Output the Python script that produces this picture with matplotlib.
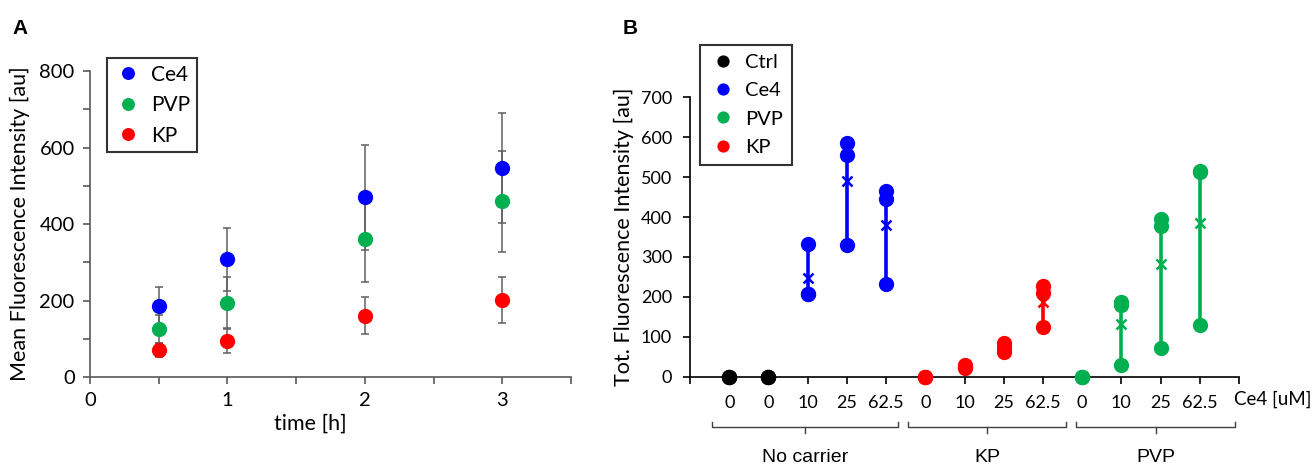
import matplotlib
matplotlib.use("Agg")
import matplotlib.pyplot as plt
import numpy as np

plt.rcParams['font.family'] = ['Lato', 'DejaVu Sans']

BLUE = '#0000ff'
GREEN = '#00b050'
RED = '#ff0000'

# ---- panel A data: mean fluorescence vs time
time_h = [0.5, 1, 2, 3]
ce4_mean = [186, 308, 470, 546]
ce4_err = [49, 82, 137, 143]
pvp_mean = [125, 194, 360, 459]
pvp_err = [37, 67, 112, 133]
kp_mean = [71, 95, 160, 202]
kp_err = [18, 31, 48, 60]

# ---- panel B data: replicate totals per condition
cat_labels = ['0', '0', '10', '25', '62.5', '0', '10', '25', '62.5', '0', '10', '25', '62.5']
ctrl_pos = [0, 1]
ctrl_vals = [[0, 0, 0], [0, 0, 0]]
ce4_pos = [2, 3, 4]
ce4_vals = [[332, 206, 206], [586, 556, 331], [465, 445, 231]]
kp_pos = [5, 6, 7, 8]
kp_vals = [[0, 0, 0], [30, 25, 21], [84, 72, 62], [227, 209, 125]]
pvp_pos = [9, 10, 11, 12]
pvp_vals = [[0, 0, 0], [188, 180, 29], [395, 378, 71], [515, 513, 130]]
groups = ['No carrier', 'KP', 'PVP']
group_span = [(-0.45, 4.3), (4.55, 8.6), (8.85, 12.9)]

fig = plt.figure(figsize=(13.16, 4.66), dpi=100)

# ================= A =================
axA = fig.add_axes([90/1316, 1-377/466, (571-90)/1316, (377-71)/466])
for m, e in [(ce4_mean, ce4_err), (pvp_mean, pvp_err), (kp_mean, kp_err)]:
    axA.errorbar(time_h, m, yerr=e, fmt='none', ecolor='#5f5f5f', elinewidth=1.1,
                 capsize=3.2, capthick=1.1, zorder=2)
for m, c, lab in [(ce4_mean, BLUE, 'Ce4'), (pvp_mean, GREEN, 'PVP'), (kp_mean, RED, 'KP')]:
    axA.plot(time_h, m, 'o', color=c, ms=11, mec='none', label=lab, zorder=3)

axA.set_xlim(0, 3.5)
axA.set_ylim(0, 800)
axA.set_xticks(np.arange(0, 3.51, 0.5))
axA.set_xticklabels(['0', '', '1', '', '2', '', '3', ''])
axA.set_yticks(np.arange(0, 801, 100))
axA.set_yticklabels(['0', '', '200', '', '400', '', '600', '', '800'])
for s in ['top', 'right']:
    axA.spines[s].set_visible(False)
for s in ['left', 'bottom']:
    axA.spines[s].set_color('#595959')
    axA.spines[s].set_linewidth(1.2)
axA.tick_params(direction='out', length=5, width=1.2, color='#595959', labelsize=14.5, pad=6)
axA.set_ylabel('Mean Fluorescence Intensity [au]', fontsize=15.5, labelpad=7)
axA.set_xlabel('time [h]', fontsize=15.5, labelpad=6)
axA.xaxis.set_label_coords((310-90)/(571-90), -0.12)
legA = axA.legend(loc='upper left', bbox_to_anchor=((107-90)/481, (377-58)/306),
                  frameon=True, fancybox=False, edgecolor='black', fontsize=15,
                  handletextpad=0.4, borderpad=0.32, labelspacing=0.5, handlelength=1.4,
                  markerscale=0.85, borderaxespad=0)
legA.get_frame().set_linewidth(1.5)

# ================= B =================
axB = fig.add_axes([690/1316, 1-376.7/466, (1239-690)/1316, (376.7-97.3)/466])
for pos, vals, c, lab in [(ctrl_pos, ctrl_vals, 'black', 'Ctrl'),
                          (ce4_pos, ce4_vals, BLUE, 'Ce4'),
                          (pvp_pos, pvp_vals, GREEN, 'PVP'),
                          (kp_pos, kp_vals, RED, 'KP')]:
    first = True
    for p, v in zip(pos, vals):
        v = np.array(v)
        if v.max() > v.min():
            axB.plot([p, p], [v.min(), v.max()], '-', color=c, lw=2.6, zorder=2)
            axB.plot(p, v.mean(), 'x', color=c, ms=7, mew=1.8, zorder=3)
        axB.plot([p]*len(v), v, 'o', color=c, ms=11, mec='none', zorder=4,
                 clip_on=False, label=lab if first else None)
        first = False

axB.set_xlim(-1, 13)
axB.set_ylim(0, 700)
axB.set_xticks(np.arange(-1, 14, 1))
axB.set_xticklabels([''] + cat_labels + [''])
axB.set_yticks(np.arange(0, 701, 100))
for s in ['top', 'right']:
    axB.spines[s].set_visible(False)
for s in ['left', 'bottom']:
    axB.spines[s].set_color('black')
    axB.spines[s].set_linewidth(1.2)
axB.tick_params(direction='out', length=5, width=1.2, labelsize=13, pad=8)
axB.set_ylabel('Tot. Fluorescence Intensity [au]', fontsize=15.5, labelpad=5)
axB.text(12.87, -0.08, 'Ce4 [uM]', transform=axB.get_xaxis_transform(),
         ha='left', va='center', fontsize=13.5)

tr = axB.get_xaxis_transform()
for name, (x0, x1) in zip(groups, group_span):
    yb = -(427.3-376.7)/279.4
    ytop = -(422.3-376.7)/279.4
    ybot = -(432.7-376.7)/279.4
    xc = (x0 + x1) / 2
    axB.plot([x0, x0, x1, x1], [ytop, yb, yb, ytop], color='#404040', lw=1.0,
             transform=tr, clip_on=False)
    axB.plot([xc, xc], [yb, ybot], color='#404040', lw=1.0, transform=tr, clip_on=False)
    axB.text(xc, -(457-376.7)/279.4, name, transform=tr, ha='center', va='center',
             fontsize=14, family=['Liberation Sans', 'DejaVu Sans'])

legB = axB.legend(loc='upper left', bbox_to_anchor=((700-690)/549, (376.7-45)/279.4),
                  frameon=True, fancybox=False, edgecolor='black', fontsize=14.5,
                  handletextpad=0.4, borderpad=0.45, labelspacing=0.55, handlelength=1.4,
                  markerscale=0.8, borderaxespad=0)
legB.get_frame().set_linewidth(1.5)

fig.text(12/1316, 1-28/466, 'A', fontsize=15, fontweight='bold', va='center',
         family=['Liberation Sans', 'DejaVu Sans'])
fig.text(623/1316, 1-28/466, 'B', fontsize=15, fontweight='bold', va='center',
         family=['Liberation Sans', 'DejaVu Sans'])

fig.savefig('out.png', dpi=100)
